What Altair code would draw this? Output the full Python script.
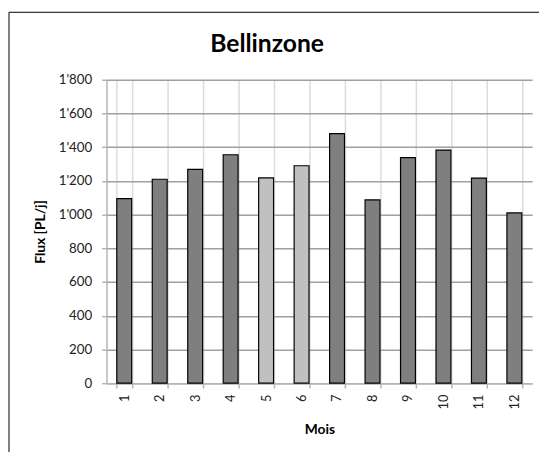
import altair as alt
import pandas as pd

months = ["1", "2", "3", "4", "5", "6", "7", "8", "9", "10", "11", "12"]
flux = [1095, 1210, 1268, 1355, 1218, 1290, 1480, 1087, 1338, 1383, 1217, 1010]
group = ["a", "a", "a", "a", "b", "b", "a", "a", "a", "a", "a", "a"]
y_ticks = [0, 200, 400, 600, 800, 1000, 1200, 1400, 1600, 1800]
chart_title = "Bellinzone"

df = pd.DataFrame({"Mois": months, "Flux": flux, "g": group})

FONT = "Lato"

bars = alt.Chart(df).mark_bar(stroke="#000000", strokeWidth=1.2).encode(
    x=alt.X(
        "Mois:N",
        sort=months,
        title="Mois",
        scale=alt.Scale(paddingInner=0.58, paddingOuter=0.29),
        axis=alt.Axis(
            labelAngle=270,
            tickBand="extent",
            grid=True,
            gridColor="#dcdcdc",
            gridWidth=1.5,
            domainColor="#b5b5b5",
            domainWidth=1.5,
            tickColor="#b5b5b5",
            tickWidth=1.5,
            tickSize=5,
            labelPadding=6,
            labelFontSize=13,
            labelColor="#222222",
            labelFont=FONT,
            titleFont=FONT,
            titleFontSize=14,
            titleFontWeight="bold",
            titleColor="#000000",
            titlePadding=14,
        ),
    ),
    y=alt.Y(
        "Flux:Q",
        title="Flux [PL/j]",
        scale=alt.Scale(domain=[0, 1800], nice=False),
        axis=alt.Axis(
            values=y_ticks,
            labelExpr="replace(format(datum.value, ','), ',', \"'\")",
            grid=True,
            gridColor="#a0a0a0",
            gridWidth=1.5,
            domainColor="#b5b5b5",
            domainWidth=1.5,
            tickColor="#b5b5b5",
            tickWidth=1.5,
            tickSize=5,
            labelPadding=10,
            labelFontSize=13.5,
            labelColor="#222222",
            labelFont=FONT,
            titleFont=FONT,
            titleFontSize=14,
            titleFontWeight="bold",
            titleColor="#000000",
            titlePadding=11,
        ),
    ),
    color=alt.Color(
        "g:N",
        scale=alt.Scale(domain=["a", "b"], range=["#7f7f7f", "#c0c0c0"]),
        legend=None,
    ),
)

border = alt.Chart(pd.DataFrame({"k": [0]})).mark_rect(
    fillOpacity=0, stroke="#000000", strokeWidth=1
).encode(
    x=alt.value(-99),
    x2=alt.value(460),
    y=alt.value(-68.5),
    y2=alt.value(420),
)

title_text = alt.Chart(pd.DataFrame({"t": [chart_title]})).mark_text(
    font=FONT,
    fontSize=25,
    fontWeight="bold",
    color="#000000",
    align="center",
    baseline="alphabetic",
).encode(
    text="t:N",
    x=alt.value(163),
    y=alt.value(-28.5),
)

chart = alt.layer(border, bars, title_text).properties(
    width=432,
    height=308,
    autosize=alt.AutoSizeParams(type="none"),
    padding={"left": 100, "top": 69.5, "right": 7, "bottom": 66},
).configure_view(stroke=None)

chart.save("out.html", embed_options={"renderer": "svg", "actions": False})
